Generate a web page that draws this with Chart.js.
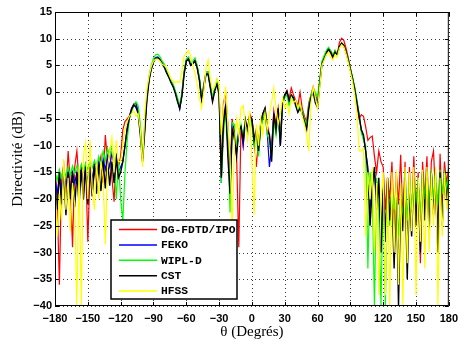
<!DOCTYPE html>
<html lang="fr">
<head>
    <meta charset="UTF-8">
    <title>Directivité</title>
    <script src="https://cdn.jsdelivr.net/npm/chart.js"></script>
    <style>
        body {
            margin: 0;
            background: #fff;
        }
        canvas {
            display: block;
        }
    </style>
</head>
<body>

<canvas id="myChart" width="464" height="345"></canvas>

<script>
    // angles (degrés), pas de 2°
    const theta = Array.from({ length: 181 }, (_, i) => -180 + 2 * i);

    const xTicks = [-180, -150, -120, -90, -60, -30, 0, 30, 60, 90, 120, 150, 180];
    const yTicks = [-40, -35, -30, -25, -20, -15, -10, -5, 0, 5, 10, 15];

    const seriesNames = ['DG-FDTD/IPO', 'FEKO', 'WIPL-D', 'CST', 'HFSS'];
    const seriesColors = ['#ff0000', '#0000ff', '#00ff00', '#000000', '#ffff00'];

    const dgfdtd = [
        -14,-20,-36,-16,-13.5,-19,-11,-17,-29,-14,
        -11,-17,-14,-19,-13,-28,-15,-18,-13.5,-17,
        -14,-12,-17,-8,-13,-11,-16,-20.5,-12,-14,
        -12,-7,-5.5,-5,-4.5,-3.5,-2.5,-2.4,-3.5,-7.5,
        -12.5,-6.5,-1,2.5,4.5,5.8,6.4,6.3,6,5.5,
        5,4,3,2,1.3,0,-1.5,-2.8,-0.5,3.8,
        5.8,6.3,5.2,5.4,6.1,4.6,2.5,-1,1.5,3.8,
        3.8,1.2,-1.2,0.5,2.2,0,-14,-2,-0.2,-6,
        -15,-5,-9,-12,-29,-6.4,-10,-5.5,-7,-4,
        -5,-8,-14,-9,-6,-4,-3,-6,-8,-11,
        -3.5,-6,-3,-8,-2,-0.5,0.3,-1.2,0.8,-0.5,
        -1.5,-2.5,0,-3,-4.5,-5.5,-2,-0.5,1,-0.5,
        -1.5,2,5.5,6.5,7.5,8,7.3,6.5,7.8,7,
        9.3,10.1,9.7,8.3,6.5,4.5,2.6,0.5,-2.5,-5,
        -4.2,-4.5,-6.5,-9,-8.5,-8.2,-12,-15,-11,-13,
        -14,-22,-16,-20,-13,-25,-15,-21,-11.7,-24,
        -13,-30,-14,-24,-12,-23,-15,-32,-13,-20,
        -12,-25,-13,-11,-20,-30,-11.5,-22,-13,-17,
        -14
    ];

    const feko = [
        -16,-19,-15.5,-18,-15,-17.5,-14.8,-18.5,-15,-17,
        -15,-17,-14.5,-16.8,-14.2,-16.5,-14,-16,-13.8,-15.5,
        -13,-15,-12.5,-14.5,-12,-14,-11.5,-13.5,-12,-15,
        -14,-13,-10,-6.5,-4.5,-3,-2.2,-2,-3.5,-7,
        -12.5,-7,-1,2.5,4.5,5.8,6.5,6.6,6.2,5.5,
        4.8,3.8,3,2,1.2,0,-1.5,-3.2,-0.5,3.5,
        6,6.3,5.2,5.5,6,4.8,2.5,-1.2,1,3.5,
        3.5,1,-1.5,0.5,1.8,0,-17,-5,-2.5,-10,
        -17,-6,-7,-11,-7.5,-6.5,-10,-5.5,-8,-5,
        -5.5,-9.5,-7.5,-11.5,-6.5,-5,-4,-7.5,-14,-10,
        -4.5,-7.5,-3.5,-10,-2,-0.8,0,-2,-0.8,-1.2,
        -2.2,-3.6,-2.8,-3.8,-5.2,-6.5,-2.8,-0.8,0.2,-1,
        -2,2,5.5,6.5,7.5,8.2,7.6,6.8,7.6,7.1,
        8.5,9.1,8.7,7.5,6.1,4.3,2.6,0.7,-1.8,-4.3,
        -7.2,-8.5,-11,-14,-22,-17,-15,-20,-18,-26,
        -17.5,-26,-17,-23,-18.5,-30,-17.5,-33,-19,-25,
        -15.5,-28,-17,-25,-16,-23,-16.5,-27,-15.5,-22,
        -15.5,-24,-15,-22,-16,-26,-15,-23,-15.5,-19,
        -16
    ];

    const wipld = [
        -15,-16.5,-14.5,-16,-14.2,-15.8,-14,-15.5,-13.8,-15.2,
        -13.8,-15,-13.5,-14.8,-13.3,-14.5,-13,-14.2,-12.8,-14,
        -12,-13.5,-11,-12.8,-10.5,-12,-10.2,-12.5,-20,-13,
        -20,-24,-15,-9,-5,-3.5,-2.5,-1.8,-2.5,-6,
        -12,-6,-0.5,3,5,6.3,7,7.1,6.6,5.8,
        5.2,4.2,3.2,2.2,1.5,0.3,-1,-2.5,0,4,
        6.2,6.6,5.5,5.8,6.4,5,2.8,-1,1.2,3.8,
        3.8,1.3,-1,0.8,2.2,0.5,-17,-8,-3,-9,
        -22.5,-5.7,-6,-10,-8,-6,-8.5,-5,-7.5,-5,
        -6,-10,-8,-12,-7,-5,-3.5,-8,-9,-12,
        -5,-8,-4,-9,-2.5,-1,-0.5,-2.5,-1,-1.5,
        -2,-3.5,-2.5,-3.5,-5,-6,-2.5,-0.5,0.5,0,
        -1,2.5,5.8,6.8,7.8,8.4,7.8,7,7.8,7.2,
        8.4,9,8.6,7.5,6.2,4.5,2.8,1,-1.5,-4,
        -7.5,-9,-10,-33,-15,-18,-40,-16,-22,-40,
        -17,-40,-18,-25,-17,-22,-18,-27,-19,-24,
        -15,-24,-16,-22,-15.5,-21,-16,-23,-15,-20,
        -15,-22,-14.5,-20,-15,-21,-14.5,-19,-15,-18,
        -15
    ];

    const cst = [
        -17,-22,-15,-21,-14.5,-23,-15,-20,-14.8,-21.5,
        -15,-21,-14.5,-20,-14,-21,-14,-19.5,-13.5,-19,
        -13.5,-18.5,-13,-18,-12.5,-17.5,-13,-17,-12.5,-16,
        -15,-13,-10,-7,-4.8,-3.2,-2.4,-2.8,-4,-8,
        -13,-7.5,-1.5,2.2,4.3,5.6,6.3,6.4,6,5.3,
        4.6,3.6,2.8,1.8,1,-0.2,-1.8,-3,-0.8,3.3,
        5.8,6.2,5,5.3,5.8,4.5,2.2,-1.5,0.8,3.3,
        3.3,0.8,-1.8,0.2,1.5,-0.5,-16,-6,-2.3,-12,
        -19,-7,-8.6,-12,-7,-6.4,-9,-5.2,-7,-4.5,
        -5,-9,-7,-11,-6,-4,-3,-7,-8,-13,
        -4,-7,-3,-10,-2,-0.5,0.2,-1.5,-0.5,-1,
        -2.5,-3.8,-3,-4,-5.5,-7,-3,-1,0,-2,
        -2.9,1.5,5.2,6.2,7.2,8,7.5,6.5,7.5,7,
        8.6,9.2,8.8,7.5,6,4.2,2.5,0.5,-2,-4.5,
        -7,-8,-11,-15,-25,-18,-14,-22,-16,-30,
        -18,-28,-16,-24,-19,-33,-17,-40,-20,-26,
        -16,-35,-18,-27,-16,-25,-17,-30,-15,-24,
        -16,-26,-15,-23,-17,-30,-15,-25,-16,-20,
        -17
    ];

    const hfss = [
        -17,-27,-19,-24,-12.5,-22,-16,-26,-17,-21,
        -40,-14,-40,-12,-9.5,-20,-9,-18,-22,-13,
        -20,-13,-16,-28.5,-14,-11,-8.5,-15,-9,-13,
        -13,-10,-7,-5.5,-4.5,-4,-3.5,-4.5,-4,-7,
        -14,-4,0.5,3,4.8,5.8,6.2,6.2,5.8,5.2,
        5,4.5,3.5,2.5,2,1.8,2,1.8,4,6.8,
        7.2,7.8,6.8,5,3.5,1.5,-1,-3,0,4.5,
        6,2.5,0.5,1,2.5,1.5,-8,-3,1,-6,
        -12,-26,-10,-5,-8,-3,-2.5,-6,-9,-3.5,
        -13,-23,-6,-10,-5,-8,-4,-7,-4,-2,
        0.8,-3,-6,-4,-1,-3,-2,-4,-1,-2,
        -1.5,-3,-2,-4.5,-6,-8,-11,-2,1,-1,
        -3,1,5,6,7,7.5,6.5,6,7,6.5,
        8.2,8.9,8.5,7.2,5.6,3.8,2,-0.5,-4,-11,
        -11,-10.5,-27,-15,-20,-14,-30,-17,-38,-20,
        -15,-38,-16,-40,-15,-30,-14.5,-36,-17,-40,
        -14,-32,-15,-26,-14,-38,-16,-28,-14.5,-33,
        -14,-30,-15,-25,-14,-40,-16,-27,-15,-22,
        -17
    ];

    const seriesData = [dgfdtd, feko, wipld, cst, hfss];
    const drawOrder = [4, 3, 2, 1, 0]; // HFSS au-dessus

    const minus = v => String(v).replace('-', '\u2212');

    // grille pointillée + cadre fermé + petites graduations internes (style MATLAB)
    const boxPlugin = {
        id: 'box',
        beforeDatasetsDraw(chart) {
            const { ctx, chartArea: a, scales } = chart;
            ctx.save();
            ctx.strokeStyle = '#3a3a3a';
            ctx.lineWidth = 1;
            ctx.setLineDash([1, 3]);
            ctx.beginPath();
            xTicks.forEach(t => {
                const x = Math.round(scales.x.getPixelForValue(t)) + 0.5;
                ctx.moveTo(x, a.top); ctx.lineTo(x, a.bottom);
            });
            yTicks.forEach(t => {
                const y = Math.round(scales.y.getPixelForValue(t)) + 0.5;
                ctx.moveTo(a.left, y); ctx.lineTo(a.right, y);
            });
            ctx.stroke();
            ctx.restore();
        },
        afterDatasetsDraw(chart) {
            const { ctx, chartArea: a, scales } = chart;
            ctx.save();
            ctx.strokeStyle = '#000';
            ctx.lineWidth = 1;
            ctx.strokeRect(a.left + 0.5, a.top + 0.5, a.right - a.left - 1, a.bottom - a.top - 1);
            ctx.beginPath();
            xTicks.forEach(t => {
                const x = Math.round(scales.x.getPixelForValue(t)) + 0.5;
                ctx.moveTo(x, a.bottom); ctx.lineTo(x, a.bottom - 4);
                ctx.moveTo(x, a.top); ctx.lineTo(x, a.top + 4);
            });
            yTicks.forEach(t => {
                const y = Math.round(scales.y.getPixelForValue(t)) + 0.5;
                ctx.moveTo(a.left, y); ctx.lineTo(a.left + 4, y);
                ctx.moveTo(a.right, y); ctx.lineTo(a.right - 4, y);
            });
            ctx.stroke();
            ctx.restore();
        }
    };

    const legendPlugin = {
        id: 'boxLegend',
        afterDraw(chart) {
            const ctx = chart.ctx;
            const left = 111, top = 220, w = 126, h = 79;
            ctx.save();
            ctx.fillStyle = '#fff';
            ctx.fillRect(left, top, w, h);
            ctx.strokeStyle = '#000';
            ctx.lineWidth = 1.5;
            ctx.strokeRect(left, top, w, h);
            ctx.font = 'bold 11.3px "Liberation Mono", "DejaVu Sans Mono", monospace';
            ctx.textBaseline = 'middle';
            seriesNames.forEach((name, i) => {
                const y = top + 9.5 + i * 15.4;
                ctx.strokeStyle = seriesColors[i];
                ctx.lineWidth = 1.5;
                ctx.beginPath();
                ctx.moveTo(119, y);
                ctx.lineTo(157, y);
                ctx.stroke();
                ctx.fillStyle = '#000';
                ctx.fillText(name, 161, y + 0.5);
            });
            ctx.restore();
        }
    };

    const config = {
        type: 'line',
        data: {
            datasets: seriesNames.map((name, i) => ({
                label: name,
                data: theta.map((t, k) => ({ x: t, y: seriesData[i][k] })),
                borderColor: seriesColors[i],
                borderWidth: i === 3 ? 1.4 : 1.2,
                pointRadius: 0,
                tension: 0,
                order: drawOrder[i]
            }))
        },
        options: {
            responsive: false,
            animation: false,
            layout: { padding: { top: 12, right: 9, left: 0, bottom: 0 } },
            plugins: {
                legend: { display: false },
                tooltip: { enabled: false }
            },
            scales: {
                x: {
                    type: 'linear',
                    min: -180,
                    max: 180,
                    afterFit: s => { s.height = 39; },
                    afterBuildTicks: s => { s.ticks = xTicks.map(v => ({ value: v })); },
                    grid: { display: false, drawTicks: false },
                    border: { display: false },
                    ticks: {
                        padding: 6,
                        maxRotation: 0,
                        autoSkip: false,
                        color: '#000',
                        font: { family: '"Liberation Sans", Arial, sans-serif', size: 11, weight: 'bold' },
                        callback: v => minus(v)
                    },
                    title: {
                        display: true,
                        text: 'θ (Degrés)',
                        color: '#000',
                        padding: { top: 0, bottom: 4 },
                        font: { family: '"Liberation Serif", "Times New Roman", serif', size: 15 }
                    }
                },
                y: {
                    min: -40,
                    max: 15,
                    afterFit: s => { s.width = 55; },
                    afterBuildTicks: s => { s.ticks = yTicks.map(v => ({ value: v })); },
                    grid: { display: false, drawTicks: false },
                    border: { display: false },
                    ticks: {
                        padding: 3,
                        color: '#000',
                        font: { family: '"Liberation Sans", Arial, sans-serif', size: 11, weight: 'bold' },
                        callback: v => minus(v)
                    },
                    title: {
                        display: true,
                        text: 'Directivité (dB)',
                        color: '#000',
                        padding: { top: 9, bottom: 0 },
                        font: { family: '"Liberation Serif", "Times New Roman", serif', size: 15 }
                    }
                }
            }
        },
        plugins: [boxPlugin, legendPlugin]
    };

    const ctx = document.getElementById('myChart').getContext('2d');
    new Chart(ctx, config);
</script>

</body>
</html>
